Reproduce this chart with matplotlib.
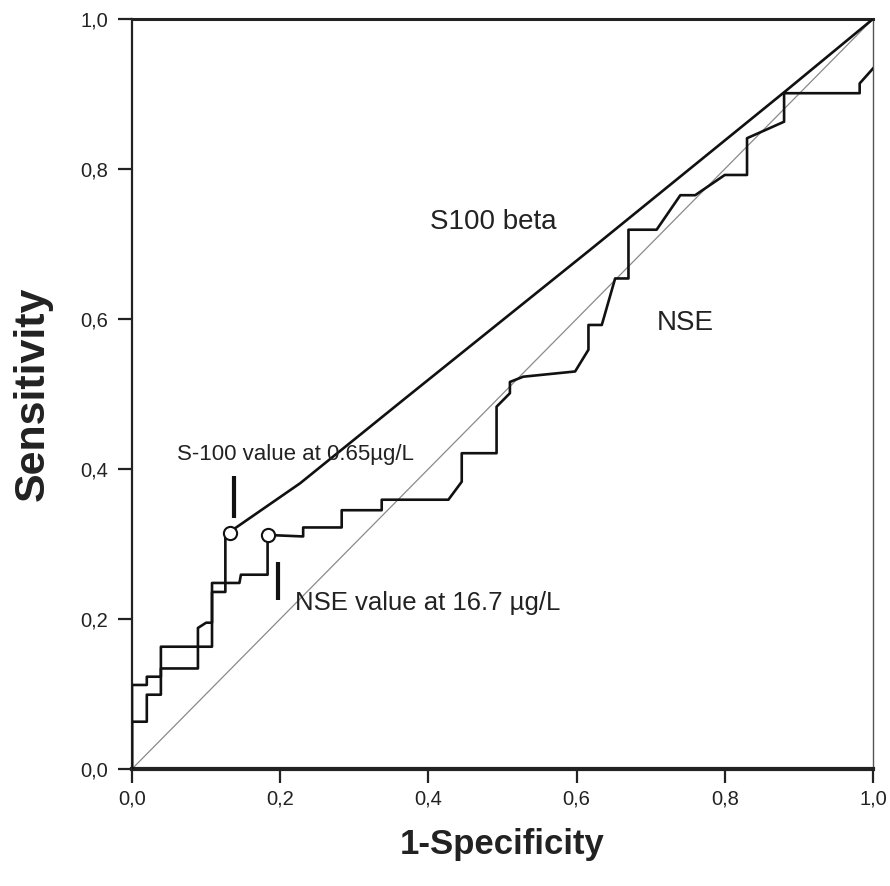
import matplotlib
matplotlib.use("Agg")
import matplotlib.pyplot as plt
from matplotlib.ticker import FuncFormatter

# ROC curves
s100_x = [0, 0, 0.02, 0.02, 0.039, 0.039, 0.108, 0.108, 0.126, 0.126,
          0.227, 0.366, 0.618, 0.881, 1.0]
s100_y = [0, 0.112, 0.112, 0.123, 0.123, 0.163, 0.163, 0.236, 0.236, 0.312,
          0.381, 0.492, 0.692, 0.903, 1.0]

nse_x = [0, 0, 0.02, 0.02, 0.039, 0.039, 0.089, 0.089, 0.10, 0.108, 0.108,
         0.145, 0.147, 0.183, 0.183, 0.231, 0.231, 0.283, 0.283, 0.337, 0.337,
         0.427, 0.445, 0.445, 0.492, 0.492, 0.510, 0.510, 0.528, 0.598, 0.616,
         0.616, 0.634, 0.652, 0.670, 0.670, 0.708, 0.740, 0.760, 0.800, 0.830,
         0.830, 0.880, 0.880, 0.982, 0.982, 1.0]
nse_y = [0, 0.063, 0.063, 0.099, 0.099, 0.134, 0.134, 0.188, 0.195, 0.195, 0.248,
         0.248, 0.259, 0.259, 0.312, 0.310, 0.322, 0.322, 0.345, 0.345, 0.359,
         0.359, 0.383, 0.421, 0.421, 0.483, 0.501, 0.516, 0.523, 0.530, 0.559,
         0.592, 0.592, 0.654, 0.654, 0.719, 0.719, 0.765, 0.765, 0.792, 0.792,
         0.841, 0.863, 0.901, 0.901, 0.914, 0.934]

# cut-off points
cut_x = [0.132, 0.184]
cut_y = [0.314, 0.312]

ticks = [0.0, 0.2, 0.4, 0.6, 0.8, 1.0]

narrow = ["Liberation Sans Narrow", "Liberation Sans", "DejaVu Sans"]
bold = ["Liberation Sans", "DejaVu Sans"]

fig = plt.figure(figsize=(8.9, 8.86), dpi=100)
ax = fig.add_axes([0.1483, 0.1321, 0.8326, 0.8465])

ax.plot([0, 1], [0, 1], color="#8a8a8a", lw=0.9, zorder=1)
ax.plot(s100_x, s100_y, color="#111111", lw=1.9, zorder=3)
ax.plot(nse_x, nse_y, color="#111111", lw=1.9, zorder=3)
ax.plot(cut_x, cut_y, "o", ms=9.5, mfc="white", mec="#111111", mew=1.5, zorder=4)

# short markers next to the cut-offs
ax.plot([0.137, 0.137], [0.334, 0.39], color="#111111", lw=3, solid_capstyle="butt")
ax.plot([0.197, 0.197], [0.225, 0.276], color="#111111", lw=3, solid_capstyle="butt")

ax.text(0.061, 0.419, "S-100 value at 0.65\u00b5g/L", family=narrow, fontsize=16,
        ha="left", va="center", color="#222222")
ax.text(0.220, 0.221, "NSE value at 16.7 \u00b5g/L", family=narrow, fontsize=18.5,
        ha="left", va="center", color="#222222")
ax.text(0.487, 0.729, "S100 beta", family=narrow, fontsize=20,
        ha="center", va="center", color="#222222")
ax.text(0.746, 0.595, "NSE", family=narrow, fontsize=20,
        ha="center", va="center", color="#222222")

ax.set_xlim(0, 1)
ax.set_ylim(0, 1)
ax.set_xticks(ticks)
ax.set_yticks(ticks)
fmt = FuncFormatter(lambda v, p: ("%.1f" % v).replace(".", ","))
ax.xaxis.set_major_formatter(fmt)
ax.yaxis.set_major_formatter(fmt)
ax.tick_params(direction="out", length=10, width=1.6, color="#222222")
ax.tick_params(axis="y", pad=7)
ax.tick_params(axis="x", pad=5)
for lab in ax.get_xticklabels() + ax.get_yticklabels():
    lab.set_family(narrow)
    lab.set_fontsize(14.5)
    lab.set_color("#222222")

ax.spines["bottom"].set_linewidth(3)
ax.spines["left"].set_linewidth(1.6)
ax.spines["top"].set_linewidth(2.2)
ax.spines["right"].set_linewidth(1.0)
ax.spines["right"].set_color("#555555")
for s in ["bottom", "left", "top"]:
    ax.spines[s].set_color("#222222")

ax.set_xlabel("1-Specificity", family=bold, fontsize=25, fontweight="bold",
              labelpad=14, color="#222222")
ax.set_ylabel("Sensitivity", family=bold, fontsize=31, fontweight="bold",
              labelpad=20, color="#222222")

fig.savefig("out.png", dpi=100)
